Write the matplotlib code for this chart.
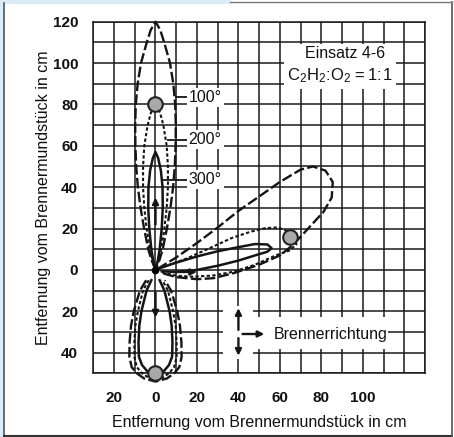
import matplotlib
matplotlib.use('Agg')
import matplotlib.pyplot as plt
from matplotlib.patches import Rectangle
import numpy as np

plt.rcParams['font.family'] = ['Liberation Sans', 'DejaVu Sans']

# ---------------- data (cm) ----------------
x_ticks = [-20, 0, 20, 40, 60, 80, 100]
x_tick_labels = ['20', '0', '20', '40', '60', '80', '100']
y_ticks = [120, 100, 80, 60, 40, 20, 0, -20, -40]
y_tick_labels = ['120', '100', '80', '60', '40', '20', '0', '20', '40']

# upward lobe: distance along the axis and half-width
up_100_d = [0, 5, 10, 20, 30, 40, 50, 60, 70, 80, 90, 100, 110, 116, 120]
up_100_w = [0, 2, 3.5, 5.5, 7.2, 8.5, 9.3, 9.7, 9.8, 9.5, 8.6, 7.0, 4.2, 2.3, 0]
up_200_d = [0, 5, 10, 20, 30, 40, 50, 60, 70, 76, 80]
up_200_w = [0, 1.5, 2.7, 4.3, 5.4, 6.0, 6.0, 5.4, 3.8, 2.2, 0]
up_300_d = [0, 5, 10, 20, 30, 40, 48, 54, 57]
up_300_w = [0, 1.2, 2.0, 3.0, 3.5, 3.4, 2.6, 1.3, 0]

# downward lobe: depth below the nozzle and half-width
down_100_d = [5, 10, 20, 27, 35, 42, 47, 50, 52.5, 54]
down_100_w = [4.5, 7.5, 10.5, 11.8, 12.5, 12.6, 11.5, 9, 5.5, 0]
down_200_d = [5, 10, 20, 27, 35, 42, 47, 50, 52, 53]
down_200_w = [3.3, 6, 8.5, 9.7, 10.2, 10.2, 9, 6.5, 3.5, 0]
down_300_d = [5, 10, 20, 27, 35, 42, 46, 49, 51]
down_300_w = [2, 4.3, 6.8, 7.8, 8.2, 8, 6.5, 4, 0]

# sideways (oblique) lobe outlines
side_100_x = [1, 10, 20, 30, 40, 50, 60, 70, 76, 82, 85.5, 85, 81, 75, 70, 65, 60, 50, 38, 28, 20, 10, 3]
side_100_y = [0.5, 6, 13, 20.5, 28.5, 35.5, 42.5, 48.5, 50, 48, 42.5, 35, 28, 21.5, 16, 11, 7, 2.5, -1.5, -4, -4.5, -3.5, -1.5]
side_200_x = [1, 8, 15, 25, 37, 46, 53, 59, 63, 66, 68, 65, 58, 48, 38, 28, 18, 10, 3]
side_200_y = [0.3, 3, 5.5, 10, 15.5, 18.5, 20.2, 20.5, 19, 16, 12.5, 9.5, 7, 2.5, -0.8, -2.7, -3.3, -2.8, -1.2]
side_300_x = [1, 10, 20, 30, 40, 48, 54, 56, 54, 48, 40, 30, 20, 10, 3]
side_300_y = [0.5, 3.5, 6.5, 9, 11, 12.5, 12.3, 10.5, 8.8, 7, 4.5, 2, 0, -1, -0.7]

dots_x = [0, 65, 0]
dots_y = [80, 16, -50]

temp_labels = ['100°', '200°', '300°']
temp_label_y = [83.5, 63, 43.5]
temp_leader_x0 = [9.7, 6.0, 3.7]

# ---------------- figure ----------------
W, H = 454, 437
fig = plt.figure(figsize=(W / 100, H / 100), dpi=100)
fig.patch.set_facecolor('white')

# page frame (screenshot border)
fig.add_artist(Rectangle((0, 0), 3.3 / W, 1, transform=fig.transFigure, color='#d9ecf8', zorder=0))
fig.add_artist(Rectangle((0, 1 - 3.3 / H), 230 / W, 3.3 / H, transform=fig.transFigure, color='#d9ecf8', zorder=0))
fig.add_artist(plt.Line2D([3.5 / W, 3.5 / W], [1.5 / H, 1 - 3.3 / H], transform=fig.transFigure, color='#555555', lw=1.2))
fig.add_artist(plt.Line2D([3.5 / W, 452 / W], [1.5 / H, 1.5 / H], transform=fig.transFigure, color='#333333', lw=1.5))
fig.add_artist(plt.Line2D([452 / W, 452 / W], [1.5 / H, 1 - 1.5 / H], transform=fig.transFigure, color='#555555', lw=1.2))
fig.add_artist(plt.Line2D([230 / W, 452 / W], [1 - 1.5 / H, 1 - 1.5 / H], transform=fig.transFigure, color='#777777', lw=1.0))

ax = fig.add_axes([93.3 / W, 1 - 373.3 / H, 331.7 / W, 351.6 / H])
ax.set_xlim(-30, 130)
ax.set_ylim(-50, 120)
ax.set_facecolor('white')

txt_c = '#111111'
grid_c = '#1a1a1a'
ax.set_xticks(x_ticks, x_tick_labels)
ax.set_yticks(y_ticks, y_tick_labels)
ax.set_xticks(np.arange(-30, 131, 10), minor=True)
ax.set_yticks(np.arange(-50, 121, 10), minor=True)
ax.tick_params(which='both', length=0)
ax.tick_params(axis='x', pad=12.5, labelsize=11, labelcolor=txt_c)
ax.tick_params(axis='y', pad=11, labelsize=11, labelcolor=txt_c)
for lab in ax.get_xticklabels() + ax.get_yticklabels():
    lab.set_fontweight('bold')
ax.set_axisbelow(True)
ax.grid(which='both', color=grid_c, lw=1.1)
for s in ax.spines.values():
    s.set_color(grid_c)
    s.set_linewidth(1.1)

# white gaps in the grid behind the annotation texts
for (x0, y0, w, h) in [(62, 87.5, 54, 21.5), (32.5, -43, 14.5, 25.5), (47, -38.3, 65, 15.6)]:
    ax.add_patch(Rectangle((x0, y0), w, h, facecolor='white', edgecolor='none', zorder=1))

ink = '#151515'
st100 = dict(color=ink, lw=1.7, dashes=[4.5, 1.4], clip_on=False, zorder=3)
st200 = dict(color=ink, lw=1.5, dashes=[1.6, 1.1], clip_on=False, zorder=3)
st300 = dict(color=ink, lw=1.8, clip_on=False, zorder=3)

def up_lobe(d, w, st):
    d = np.asarray(d, float); w = np.asarray(w, float)
    xs = np.concatenate([-w, w[::-1]])
    ys = np.concatenate([d, d[::-1]])
    ax.plot(xs, ys, **st)

def down_lobe(d, w, st):
    d = np.asarray(d, float); w = np.asarray(w, float)
    xs = np.concatenate([-w, w[::-1]])
    ys = np.concatenate([-d, -d[::-1]])
    ax.plot(xs, ys, **st)

up_lobe(up_100_d, up_100_w, st100)
up_lobe(up_200_d, up_200_w, st200)
up_lobe(up_300_d, up_300_w, st300)
down_lobe(down_100_d, down_100_w, st100)
down_lobe(down_200_d, down_200_w, st200)
down_lobe(down_300_d, down_300_w, st300)
ax.plot(side_100_x, side_100_y, **st100)
ax.plot(side_200_x, side_200_y, **st200)
ax.plot(side_300_x, side_300_y, **st300)

# focus points and nozzle
ax.plot(dots_x, dots_y, 'o', ms=10.5, mfc='#a9a9a9', mec='#222222', mew=1.5, clip_on=False, zorder=5)
ax.plot([0], [0], 'o', ms=4.5, color='black', zorder=5)

# temperature labels
for lab, ly, lx0 in zip(temp_labels, temp_label_y, temp_leader_x0):
    ax.plot([lx0, 15.5], [ly, ly], color=ink, lw=1.3, zorder=4)
    ax.text(16, ly, lab, fontsize=11.5, color=txt_c, va='center', ha='left', zorder=4,
            bbox=dict(facecolor='white', edgecolor='none', pad=1.5))

# flame direction arrows
arr = dict(arrowstyle='-|>', color=ink, lw=1.7, mutation_scale=9, shrinkA=0, shrinkB=0)
ax.annotate('', xy=(0, 35), xytext=(0, 22), arrowprops=arr, zorder=4)
ax.annotate('', xy=(0, -23), xytext=(0, -11), arrowprops=arr, zorder=4)
ax.annotate('', xy=(20, -1), xytext=(8, -1), arrowprops=arr, zorder=4)

# legend of directions
ax.annotate('', xy=(40, -18.5), xytext=(40, -29), arrowprops=arr, zorder=4)
ax.annotate('', xy=(40, -41.5), xytext=(40, -33), arrowprops=arr, zorder=4)
ax.annotate('', xy=(52.5, -31), xytext=(42, -31), arrowprops=arr, zorder=4)
ax.text(84.5, -31, 'Brennerrichtung', fontsize=11.5, color=txt_c, ha='center', va='center', zorder=4)

ax.text(91.5, 104.5, 'Einsatz 4-6', fontsize=11.5, color=txt_c, ha='center', va='center', zorder=4)
ax.text(89, 94, r'$\mathregular{C_2H_2\!:\!O_2=1\!:\!1}$', fontsize=12, color=txt_c,
        ha='center', va='center', zorder=4)

ax.set_xlabel('Entfernung vom Brennermundstück in cm', fontsize=11.5, color=txt_c, labelpad=7.5)
ax.set_ylabel('Entfernung vom Brennermundstück in cm', fontsize=11.5, color=txt_c, labelpad=1)

fig.savefig('out.png', dpi=100)
